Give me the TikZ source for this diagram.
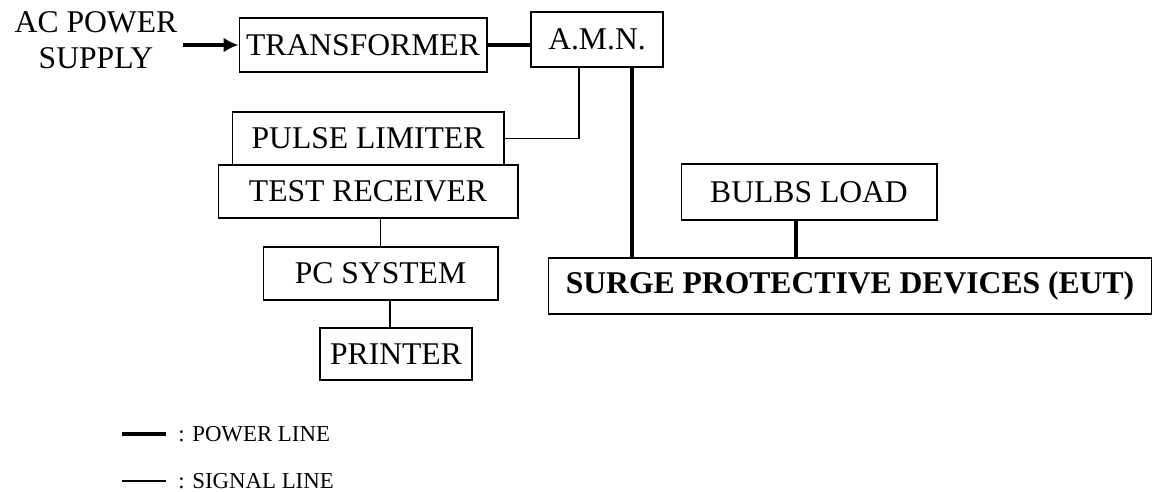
\documentclass[tikz,border=0pt]{standalone}
\usepackage{fontspec}
\setmainfont{Liberation Serif}
\usetikzlibrary{positioning, arrows.meta}

\begin{document}
\begin{tikzpicture}[x=0.02cm, y=-0.02cm,
    unit/.style={draw, line width=0.6pt, inner sep=0pt, font=\fontsize{18}{21}\selectfont},
    power/.style={line width=1.8pt},
    signal/.style={line width=0.6pt},
    legendtext/.style={inner sep=0pt, font=\fontsize{13}{15}\selectfont}]
    \useasboundingbox (0,0) rectangle (1159,491);

    % source side
    \node[align=center, font=\fontsize{18}{20.5}\selectfont] (acsupply) at (96,40) {AC POWER\\SUPPLY};
    \node[unit, minimum width=4.96cm, minimum height=1.08cm] (trans) at (363,45) {TRANSFORMER};
    \node[unit, minimum width=2.64cm, minimum height=1.10cm] (amn) at (597,39.5) {A.M.N.};

    % receiver chain
    \node[unit, minimum width=5.44cm, minimum height=1.06cm] (pulse) at (368,138.5) {PULSE LIMITER};
    \node[unit, minimum width=6.00cm, minimum height=1.06cm] (recv) at (368,191.5) {TEST RECEIVER};
    \node[unit, minimum width=4.70cm, minimum height=1.06cm] (pc) at (380.5,273.5) {PC SYSTEM};
    \node[unit, minimum width=3.04cm, minimum height=1.04cm] (printer) at (396,354) {PRINTER};

    % load side
    \node[unit, minimum width=5.12cm, minimum height=1.12cm] (bulbs) at (809,192) {BULBS LOAD};
    \node[unit, minimum width=12.08cm, minimum height=1.12cm, font=\fontsize{18}{21}\selectfont\bfseries] (spd) at (850,286) {SURGE PROTECTIVE DEVICES (EUT)};

    \draw[power, -{Latex[length=0.3cm, width=0.3cm]}] (acsupply.east |- trans.west) -- (trans.west);
    \draw[power] (trans.east) -- (trans.east -| amn.west);
    \draw[signal] ([xshift=-0.36cm]amn.south) |- (pulse.east);
    \draw[power] ([xshift=0.70cm]amn.south) -- ([xshift=0.70cm]amn.south |- spd.north);
    \draw[signal] (pc.north) -- (pc.north |- recv.south);
    \draw[signal] ([xshift=-0.12cm]printer.north) -- ([xshift=-0.12cm]printer.north |- pc.south);
    \draw[power] ([xshift=-0.26cm]bulbs.south) -- ([xshift=-0.26cm]bulbs.south |- spd.north);

    % legend
    \coordinate (pwa) at (122,434);
    \coordinate (pwb) at (166,434);
    \coordinate (sga) at (122,481);
    \coordinate (sgb) at (166,481);
    \draw[power] (pwa) -- (pwb);
    \draw[signal] (sga) -- (sgb);
    \node[legendtext, right=0.24cm of pwb] (pwlabel) {: POWER LINE};
    \node[legendtext, right=0.24cm of sgb] (sglabel) {: SIGNAL LINE};
\end{tikzpicture}
\end{document}
